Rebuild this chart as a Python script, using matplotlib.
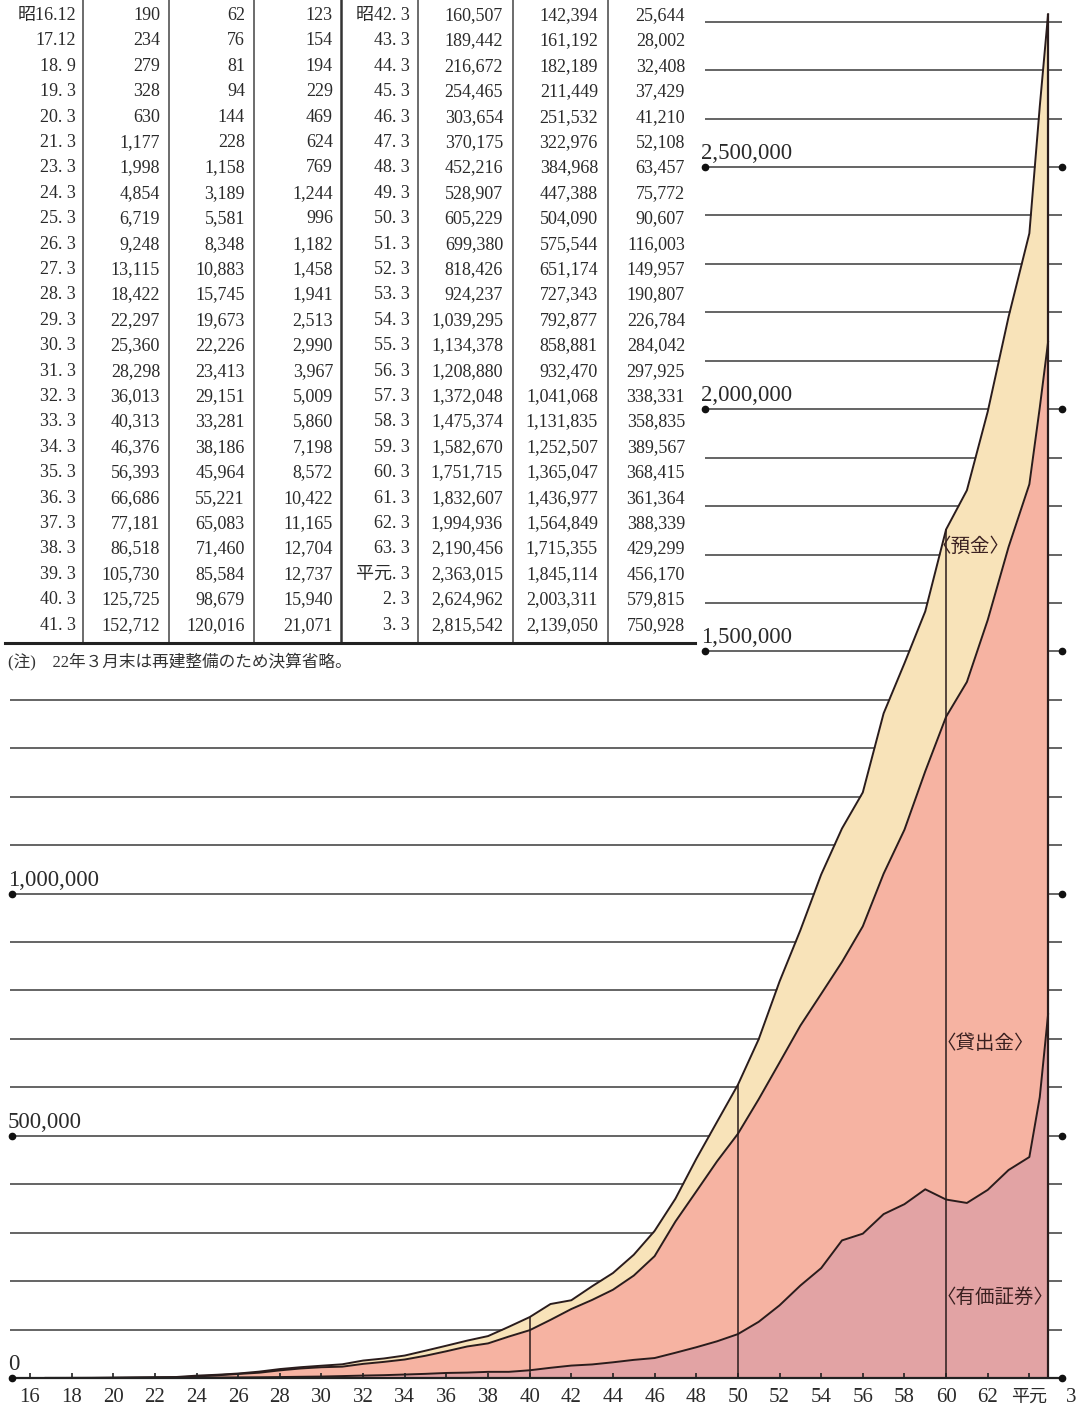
import numpy as np
import matplotlib.pyplot as plt

periods = ["昭16.12", "17.12", "18. 9", "19. 3", "20. 3", "21. 3", "23. 3", "24. 3",
           "25. 3", "26. 3", "27. 3", "28. 3", "29. 3", "30. 3", "31. 3", "32. 3",
           "33. 3", "34. 3", "35. 3", "36. 3", "37. 3", "38. 3", "39. 3", "40. 3", "41. 3",
           "昭42. 3", "43. 3", "44. 3", "45. 3", "46. 3", "47. 3", "48. 3", "49. 3",
           "50. 3", "51. 3", "52. 3", "53. 3", "54. 3", "55. 3", "56. 3", "57. 3",
           "58. 3", "59. 3", "60. 3", "61. 3", "62. 3", "63. 3", "平元. 3", "2. 3", "3. 3"]

# position of each period on the chart (Showa years, as drawn)
chart_year = [16.75, 17.75, 18.5, 19, 20, 21, 23, 24, 25, 26, 27, 28, 29, 30, 31, 32,
              33, 34, 35, 36, 37, 38, 39, 40, 41, 42, 43, 44, 45, 46, 47, 48, 49, 50,
              51, 52, 53, 54, 55, 56, 57, 58, 59, 60, 61, 62, 63, 64, 64.5, 64.9]

deposits = [190, 234, 279, 328, 630, 1177, 1998, 4854, 6719, 9248, 13115, 18422, 22297,
            25360, 28298, 36013, 40313, 46376, 56393, 66686, 77181, 86518, 105730, 125725,
            152712, 160507, 189442, 216672, 254465, 303654, 370175, 452216, 528907, 605229,
            699380, 818426, 924237, 1039295, 1134378, 1208880, 1372048, 1475374, 1582670,
            1751715, 1832607, 1994936, 2190456, 2363015, 2624962, 2815542]

loans = [62, 76, 81, 94, 144, 228, 1158, 3189, 5581, 8348, 10883, 15745, 19673, 22226,
         23413, 29151, 33281, 38186, 45964, 55221, 65083, 71460, 85584, 98679, 120016,
         142394, 161192, 182189, 211449, 251532, 322976, 384968, 447388, 504090, 575544,
         651174, 727343, 792877, 858881, 932470, 1041068, 1131835, 1252507, 1365047,
         1436977, 1564849, 1715355, 1845114, 2003311, 2139050]

securities = [123, 154, 194, 229, 469, 624, 769, 1244, 996, 1182, 1458, 1941, 2513, 2990,
              3967, 5009, 5860, 7198, 8572, 10422, 11165, 12704, 12737, 15940, 21071,
              25644, 28002, 32408, 37429, 41210, 52108, 63457, 75772, 90607, 116003,
              149957, 190807, 226784, 284042, 297925, 338331, 358835, 389567, 368415,
              361364, 388339, 429299, 456170, 579815, 750928]

xtick_years = list(range(16, 67, 2))
xtick_labels = [str(y) for y in range(16, 63, 2)] + ["平元", "3"]
ylabel_values = [0, 500000, 1000000, 1500000, 2000000, 2500000]
area_labels = ["〈預金〉", "〈貸出金〉", "〈有価証券〉"]
note = "(注)　22年３月末は再建整備のため決算省略。"

# ---- layout --------------------------------------------------------
W, H = 1086, 1410
PXY = 20.82          # pixels per year
X16 = 30             # pixel of year 16
Y0 = 1378            # pixel of zero
PXV = 48.44 / 1e5    # pixels per unit value

def px2yr(px):
    return 16 + (px - X16) / PXY

serif = ["Liberation Serif", "Noto Sans CJK JP"]
ink = "#2a1c1c"
c_dep, c_loan, c_sec = "#f8e3b9", "#f6b3a2", "#e2a3a4"

fig = plt.figure(figsize=(W / 100, H / 100), dpi=100)
ax = fig.add_axes([0, 0, 1, 1])
ax.set_axis_off()
ax.set_xlim(px2yr(0), px2yr(W))
ax.set_ylim(-(H - Y0) / PXV, Y0 / PXV)

x = np.array(chart_year)
dep = np.array(deposits)
loa = np.array(loans)
sec = np.array(securities)

# grid lines (hidden behind the areas)
for v in range(100000, 2900000, 100000):
    left = 10 if v <= 1400000 else 705
    ax.hlines(v, px2yr(left), px2yr(1062), color="#3a3a3a", lw=1.1, zorder=1)

# areas
ax.fill_between(x, 0, dep, color=c_dep, lw=0, zorder=2)
ax.fill_between(x, 0, loa, color=c_loan, lw=0, zorder=3)
ax.fill_between(x, 0, sec, color=c_sec, lw=0, zorder=4)
for s in (dep, loa, sec):
    ax.plot(x, s, color=ink, lw=1.4, zorder=5)
ax.vlines(x[-1], 0, dep[-1], color=ink, lw=1.6, zorder=5)
for yr in (40, 50, 60):
    ax.vlines(yr, 0, np.interp(yr, x, dep), color=ink, lw=1.1, zorder=5)

# baseline, ticks, dots
ax.hlines(0, px2yr(10), px2yr(1062), color="#222", lw=1.6, zorder=6)
ax.vlines(xtick_years[:-1], 0, 5 / PXV, color="#222", lw=1.2, zorder=6)
for v in ylabel_values:
    left = 12 if v <= 1000000 else 705
    ax.plot([px2yr(left), px2yr(1062)], [v, v], "o", color="#111", ms=4.5, zorder=7)
    ax.annotate(f"{v:,}", (px2yr(left - 4), v), xytext=(0, 3), textcoords="offset pixels",
                ha="left", va="bottom", fontsize=16.5, family=serif, color="#2a2a2a")

for yr, lab in zip(xtick_years, xtick_labels):
    ax.annotate(lab, (yr, 0), xytext=(0, -19), textcoords="offset pixels",
                ha="center", va="center", fontsize=15 if lab.isdigit() else 13,
                family=serif, color="#2a2a2a")

# area labels
for lab, (yr, v) in zip(area_labels, [(px2yr(971), (Y0 - 547) / PXV),
                                      (px2yr(985), (Y0 - 1044) / PXV),
                                      (px2yr(995), (Y0 - 1298) / PXV)]):
    ax.text(yr, v, lab, ha="center", va="center", fontsize=14, family=serif,
            color="#3a2020", zorder=8)

# ---- table (pixel coordinates) -----------------------------------------
pa = fig.add_axes([0, 0, 1, 1])
pa.set_axis_off()
pa.patch.set_visible(False)
pa.set_xlim(0, W)
pa.set_ylim(H, 0)

col_right = [76, 160, 245, 333, 410, 503, 598, 685]
for xl in (83, 169, 254, 418, 513, 608):
    pa.plot([xl, xl], [0, 643], color="#444", lw=1.1)
pa.plot([341, 341], [0, 643], color="#333", lw=1.8)
pa.plot([5, 695], [643, 643], color="#222", lw=2.2)

n = 25
for i in range(2 * n):
    half = i // n
    row = i % n
    yy = 15.5 + row * 25.4
    cells = [periods[i], f"{deposits[i]:,}", f"{loans[i]:,}", f"{securities[i]:,}"]
    for j, c in enumerate(cells):
        pa.text(col_right[half * 4 + j], yy, c, ha="right", va="center",
                fontsize=13, family=serif, color="#2a2a2a")

pa.text(8, 661, note, ha="left", va="center", fontsize=12, family=serif, color="#333")

fig.savefig("out.png", dpi=100, facecolor="white")
